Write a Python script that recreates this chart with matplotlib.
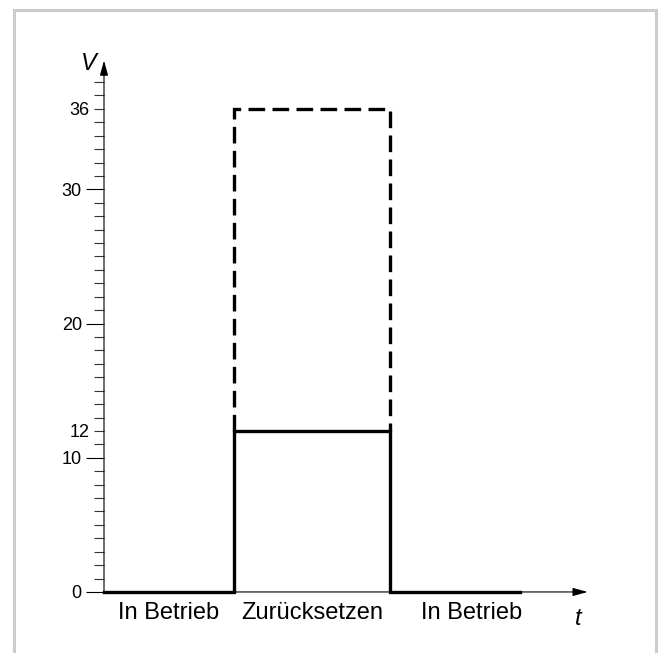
import matplotlib.pyplot as plt
from matplotlib.patches import Rectangle
from matplotlib.ticker import FuncFormatter

# state phases along the time axis
phases = ["In Betrieb", "Zurücksetzen", "In Betrieb"]
t_edges = [0, 1.0, 2.2, 3.2]
v_normal = 0
v_reset = 12
v_reset_max = 36

y_long = [0, 10, 20, 30]
y_short_labels = [12, 36]

plt.rcParams['font.family'] = ['Liberation Sans', 'DejaVu Sans']

fig = plt.figure(figsize=(6.58, 6.53), dpi=100)
fig.patches.append(Rectangle((13.5 / 658, -0.1), (655.5 - 13.5) / 658, 1.1 - 10.5 / 653,
                             transform=fig.transFigure, fill=False,
                             edgecolor='#cccccc', linewidth=2.2))

ax = fig.add_axes([91 / 658, 34.2 / 653, 520 / 658, 577 / 653])
ax.set_xlim(-0.1, 3.9)
ax.set_ylim(-2, 41)
for s in ax.spines.values():
    s.set_visible(False)
# ticks sit on the y axis at t = 0
ax.spines['left'].set_position(('data', 0))
ax.spines['left'].set_visible(True)
ax.spines['left'].set_color('none')

# axes with arrows
ax.annotate('', xy=(3.72, 0), xytext=(0, 0),
            arrowprops=dict(arrowstyle='-|>,head_length=0.9,head_width=0.25',
                            color='black', lw=0.8, shrinkA=0, shrinkB=0))
ax.annotate('', xy=(0, 39.6), xytext=(0, 0),
            arrowprops=dict(arrowstyle='-|>,head_length=0.9,head_width=0.25',
                            color='black', lw=0.8, shrinkA=0, shrinkB=0))

# solid signal
xs = [t_edges[0], t_edges[1], t_edges[1], t_edges[2], t_edges[2], t_edges[3]]
ys = [v_normal, v_normal, v_reset, v_reset, v_normal, v_normal]
ax.plot(xs, ys, color='black', lw=2.4, solid_joinstyle='miter', clip_on=False, zorder=3)

# dashed upper limit
xd = [t_edges[1], t_edges[1], t_edges[2], t_edges[2]]
yd = [v_reset, v_reset_max, v_reset_max, v_reset]
ax.plot(xd, yd, color='black', lw=2.4, linestyle=(0, (5, 2.2)),
        dash_joinstyle='miter', clip_on=False, zorder=3)

# ticks: long ones at 0/10/20/30, short ones every 1 (12 and 36 labelled)
ax.set_xticks([])
ax.set_yticks(y_long)
ax.set_yticks([v for v in range(0, 39) if v not in y_long], minor=True)
ax.yaxis.set_minor_formatter(FuncFormatter(lambda v, p: str(int(round(v))) if round(v) in y_short_labels else ''))
ax.tick_params(axis='y', which='both', direction='out', width=0.8, color='black',
               pad=3, labelsize=13)
ax.tick_params(axis='y', which='major', length=13)
ax.tick_params(axis='y', which='minor', length=7.5, color='#333333')

# phase labels
label_x = [(t_edges[0] + t_edges[1]) / 2, (t_edges[1] + t_edges[2]) / 2, 2.83]
for x, txt in zip(label_x, phases):
    ax.text(x, -1.6, txt, ha='center', va='center', fontsize=17)

ax.text(3.65, -2.0, 't', fontstyle='italic', fontsize=17, ha='center', va='center')
ax.text(-0.12, 39.4, 'V', fontstyle='italic', fontsize=17, ha='center', va='center')

plt.savefig("out.png", dpi=100)
plt.close()
